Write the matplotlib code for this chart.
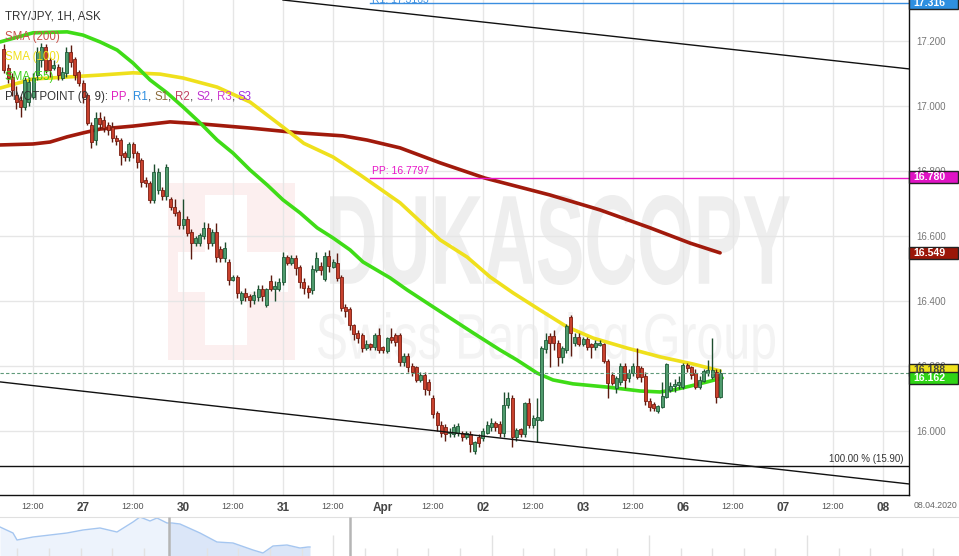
import numpy as np
import matplotlib
matplotlib.use("Agg")
import matplotlib.pyplot as plt
from matplotlib.patches import Rectangle, PathPatch
from matplotlib.textpath import TextPath
from matplotlib.font_manager import FontProperties
from matplotlib.transforms import Affine2D, blended_transform_factory

plt.rcParams['font.family'] = ['Liberation Sans', 'DejaVu Sans']

# ---------------- data ----------------
# hourly bars, hour offsets relative to 27 Mar 2020 00:00 (trading hours, weekend skipped)
hours = list(range(-19, 154))

opens = [
    17.175, 17.117, 17.089, 17.034, 17.018, 16.997, 17.012, 17.028, 17.095, 17.142,
    17.182, 17.142, 17.117, 17.120, 17.086, 17.102, 17.166, 17.145, 17.105, 17.071,
    17.034, 16.942, 16.895, 16.963, 16.957, 16.942, 16.935, 16.902, 16.895, 16.855,
    16.843, 16.883, 16.855, 16.834, 16.772, 16.763, 16.711, 16.742, 16.742, 16.723,
    16.714, 16.689, 16.674, 16.634, 16.652, 16.612, 16.578, 16.578, 16.600, 16.624,
    16.578, 16.612, 16.560, 16.532, 16.520, 16.465, 16.474, 16.403, 16.425, 16.415,
    16.403, 16.412, 16.437, 16.388, 16.462, 16.437, 16.437, 16.458, 16.535, 16.517,
    16.532, 16.505, 16.458, 16.440, 16.434, 16.495, 16.508, 16.468, 16.538, 16.505,
    16.517, 16.474, 16.382, 16.375, 16.326, 16.302, 16.295, 16.255, 16.268, 16.258,
    16.295, 16.258, 16.246, 16.289, 16.295, 16.295, 16.212, 16.231, 16.200, 16.197,
    16.157, 16.172, 16.151, 16.101, 16.055, 16.018, 16.012, 15.994, 15.991, 15.994,
    15.994, 15.982, 15.991, 15.939, 15.982, 15.978, 15.994, 16.012, 16.025, 16.021,
    15.994, 16.080, 16.101, 15.982, 16.006, 15.991, 16.086, 16.018, 16.034, 16.034,
    16.252, 16.292, 16.292, 16.271, 16.228, 16.249, 16.351, 16.271, 16.289, 16.268,
    16.283, 16.268, 16.258, 16.265, 16.268, 16.215, 16.172, 16.132, 16.151, 16.200,
    16.163, 16.178, 16.200, 16.194, 16.169, 16.092, 16.083, 16.062, 16.074, 16.105,
    16.126, 16.138, 16.142, 16.136, 16.203, 16.197, 16.178, 16.136, 16.154, 16.178,
    16.166, 16.182, 16.105]

closes = [
    17.111, 17.086, 17.049, 17.012, 16.997, 17.080, 17.074, 17.086, 17.166, 17.182,
    17.111, 17.111, 17.126, 17.095, 17.105, 17.166, 17.135, 17.095, 17.071, 17.028,
    16.948, 16.889, 16.963, 16.945, 16.932, 16.926, 16.902, 16.892, 16.849, 16.843,
    16.883, 16.855, 16.828, 16.766, 16.763, 16.711, 16.797, 16.797, 16.723, 16.812,
    16.689, 16.671, 16.634, 16.652, 16.609, 16.578, 16.594, 16.603, 16.624, 16.578,
    16.612, 16.535, 16.532, 16.563, 16.465, 16.474, 16.425, 16.425, 16.412, 16.403,
    16.418, 16.437, 16.415, 16.437, 16.437, 16.446, 16.458, 16.535, 16.517, 16.532,
    16.502, 16.458, 16.440, 16.428, 16.498, 16.532, 16.495, 16.538, 16.508, 16.520,
    16.471, 16.378, 16.369, 16.326, 16.298, 16.286, 16.255, 16.268, 16.258, 16.295,
    16.249, 16.249, 16.286, 16.280, 16.274, 16.212, 16.231, 16.197, 16.182, 16.157,
    16.172, 16.129, 16.126, 16.052, 16.018, 15.994, 15.991, 15.994, 16.012, 16.015,
    15.982, 15.994, 15.960, 15.966, 15.963, 16.000, 16.018, 16.025, 16.012, 15.994,
    16.080, 16.101, 15.982, 16.003, 15.991, 16.086, 16.018, 16.040, 16.043, 16.255,
    16.280, 16.271, 16.271, 16.228, 16.255, 16.323, 16.302, 16.289, 16.268, 16.283,
    16.258, 16.258, 16.271, 16.271, 16.215, 16.148, 16.148, 16.163, 16.200, 16.157,
    16.178, 16.200, 16.166, 16.166, 16.092, 16.074, 16.071, 16.077, 16.108, 16.206,
    16.138, 16.145, 16.151, 16.203, 16.194, 16.172, 16.136, 16.157, 16.185, 16.188,
    16.188, 16.105, 16.178]

highs = [
    17.190, 17.130, 17.100, 17.060, 17.030, 17.090, 17.090, 17.100, 17.180, 17.194,
    17.190, 17.150, 17.140, 17.130, 17.120, 17.180, 17.188, 17.150, 17.110, 17.080,
    17.040, 16.950, 16.980, 16.980, 16.970, 16.950, 16.950, 16.910, 16.900, 16.860,
    16.890, 16.890, 16.860, 16.840, 16.780, 16.770, 16.820, 16.810, 16.750, 16.820,
    16.720, 16.714, 16.680, 16.714, 16.660, 16.620, 16.600, 16.610, 16.643, 16.640,
    16.620, 16.640, 16.570, 16.580, 16.530, 16.480, 16.480, 16.430, 16.440, 16.420,
    16.430, 16.450, 16.450, 16.440, 16.480, 16.460, 16.470, 16.550, 16.540, 16.540,
    16.540, 16.510, 16.470, 16.450, 16.510, 16.550, 16.520, 16.550, 16.557, 16.530,
    16.548, 16.480, 16.390, 16.380, 16.330, 16.310, 16.300, 16.280, 16.270, 16.300,
    16.317, 16.260, 16.290, 16.317, 16.300, 16.300, 16.240, 16.240, 16.210, 16.200,
    16.180, 16.180, 16.160, 16.110, 16.060, 16.030, 16.020, 16.010, 16.020, 16.025,
    16.000, 16.000, 16.000, 15.970, 15.990, 16.010, 16.030, 16.040, 16.030, 16.030,
    16.120, 16.120, 16.110, 16.010, 16.010, 16.090, 16.100, 16.050, 16.101, 16.260,
    16.300, 16.300, 16.310, 16.280, 16.260, 16.330, 16.357, 16.300, 16.300, 16.290,
    16.290, 16.270, 16.280, 16.280, 16.270, 16.220, 16.180, 16.170, 16.210, 16.210,
    16.190, 16.210, 16.255, 16.200, 16.180, 16.100, 16.090, 16.080, 16.151, 16.210,
    16.150, 16.160, 16.170, 16.210, 16.210, 16.200, 16.190, 16.170, 16.190, 16.218,
    16.286, 16.190, 16.190]

lows = [
    17.100, 17.070, 17.030, 16.990, 16.966, 16.988, 17.000, 17.020, 17.080, 17.120,
    17.100, 17.090, 17.110, 17.080, 17.080, 17.090, 17.120, 17.080, 17.060, 17.010,
    16.940, 16.870, 16.880, 16.930, 16.920, 16.910, 16.890, 16.880, 16.818, 16.830,
    16.830, 16.840, 16.810, 16.750, 16.750, 16.700, 16.700, 16.730, 16.710, 16.710,
    16.680, 16.660, 16.620, 16.620, 16.600, 16.530, 16.570, 16.570, 16.590, 16.560,
    16.570, 16.520, 16.520, 16.520, 16.450, 16.460, 16.410, 16.390, 16.400, 16.380,
    16.390, 16.400, 16.400, 16.380, 16.430, 16.400, 16.430, 16.450, 16.510, 16.510,
    16.480, 16.440, 16.420, 16.410, 16.420, 16.490, 16.480, 16.460, 16.490, 16.500,
    16.460, 16.370, 16.350, 16.310, 16.280, 16.270, 16.243, 16.250, 16.250, 16.250,
    16.240, 16.240, 16.240, 16.270, 16.260, 16.200, 16.200, 16.180, 16.170, 16.150,
    16.150, 16.110, 16.110, 16.040, 16.000, 15.980, 15.970, 15.980, 15.980, 15.985,
    15.970, 15.975, 15.935, 15.930, 15.950, 15.970, 15.990, 16.000, 16.000, 15.980,
    15.980, 16.070, 15.951, 15.970, 15.980, 15.980, 16.010, 16.010, 15.966, 16.030,
    16.240, 16.197, 16.250, 16.200, 16.210, 16.240, 16.230, 16.260, 16.260, 16.260,
    16.250, 16.225, 16.250, 16.260, 16.210, 16.102, 16.140, 16.117, 16.140, 16.132,
    16.150, 16.170, 16.160, 16.150, 16.080, 16.060, 16.060, 16.055, 16.070, 16.100,
    16.120, 16.120, 16.130, 16.130, 16.180, 16.160, 16.130, 16.130, 16.150, 16.170,
    16.160, 16.086, 16.100]

# moving averages
sma55_h = [-19.9, -12, -3.8, 0, 4.1, 8.2, 12, 16.1, 20.2, 24, 28.1, 32.2, 36, 40.1, 44.2,
           48, 52.1, 56.2, 60, 64.1, 67.2, 73.7, 77.8, 84, 88.8, 93.6, 100.1, 104.2, 109,
           112.8, 117.6, 125.8, 133.7, 138.5, 141.6, 145.7, 149.8, 153.4]
sma55_v = [17.197, 17.225, 17.228, 17.218, 17.197, 17.172, 17.132, 17.080, 17.040, 16.997,
           16.948, 16.895, 16.855, 16.803, 16.757, 16.711, 16.671, 16.625, 16.594, 16.557,
           16.520, 16.471, 16.434, 16.382, 16.342, 16.302, 16.249, 16.218, 16.178, 16.157,
           16.145, 16.135, 16.123, 16.120, 16.126, 16.138, 16.151, 16.163]

sma100_h = [-19.9, -12, -3.8, 4.1, 12, 18.5, 24, 32.2, 40.1, 48, 53, 60, 66.5, 76.1, 85.7,
            92.2, 97.7, 103.2, 109.7, 116.2, 122.4, 130.6, 138.5, 146.4, 152.9]
sma100_v = [17.055, 17.083, 17.089, 17.095, 17.102, 17.098, 17.086, 17.058, 17.012, 16.935,
            16.885, 16.843, 16.788, 16.702, 16.588, 16.535, 16.474, 16.425, 16.372, 16.320,
            16.286, 16.255, 16.228, 16.206, 16.185]

sma200_h = [-19.9, -12, -7.9, -3.8, 0, 4.1, 12, 20.9, 28.1, 40.1, 52.1, 62.4, 68.2, 76.1,
            85.7, 96.5, 112.1, 124.1, 136.1, 145.7, 152.9]
sma200_v = [16.880, 16.883, 16.889, 16.905, 16.917, 16.929, 16.938, 16.951, 16.945, 16.932,
            16.917, 16.908, 16.895, 16.871, 16.825, 16.778, 16.726, 16.680, 16.625, 16.578,
            16.548]

pivot_start_h = 69
pp_value = 16.7797
r1_value = 17.3163
fib_level = 15.893
upper_line_h = [48.0, 198.24]
upper_line_v = [17.326, 17.114]
lower_line_h = [-19.92, 198.24]
lower_line_v = [16.151, 15.837]
last_price = 16.178

ytick_vals = [16.0, 16.2, 16.4, 16.6, 16.8, 17.0, 17.2]
xtick_hours = list(range(-12, 193, 12))
xtick_labels = ["12:00", "27", "12:00", "30", "12:00", "31", "12:00", "Apr", "12:00",
                "02", "12:00", "03", "12:00", "06", "12:00", "07", "12:00", "08"]

# navigator (overview strip) line
nav_x = [0, 13, 17, 33, 50, 67, 83, 100, 117, 133, 140, 150, 157, 167, 169,
         172, 180, 200, 217, 233, 253, 263, 273, 287, 300, 308, 310]
nav_y = [29, 23, 16, 19, 21, 23, 26, 28, 24, 34, 39, 35, 38, 33, 33,
         33, 32, 23, 14, 13, 6, 3, 10, 11, 8, 9, 9]
nav_split = 169
nav_handles = [169, 350]
nav_minor = [17, 49, 81, 112, 144, 207, 238, 270, 302, 365, 397, 428, 460, 523, 554,
             586, 617, 681, 712, 744, 775, 839, 870, 902, 933]
nav_major = [333, 492, 649, 807]

assert len(hours) == len(opens) == len(closes) == len(highs) == len(lows)

# ---------------- figure ----------------
W, H = 959, 556
fig = plt.figure(figsize=(W / 100, H / 100), dpi=100)
fig.patch.set_facecolor('white')
ax = fig.add_axes([0, 61 / H, 909 / W, 495 / H])
ax.set_xlim(-19.92, 198.24)
ax.set_ylim(15.803, 17.326)
ax.set_facecolor('white')

for s in ['left', 'top']:
    ax.spines[s].set_visible(False)
for s in ['right', 'bottom']:
    ax.spines[s].set_color('#111111')
    ax.spines[s].set_linewidth(1.0)
    ax.spines[s].set_zorder(12)

ax.set_axisbelow(True)
ax.grid(True, color='#e6e6e6', lw=1.0)
ax.yaxis.tick_right()
ax.set_yticks(ytick_vals)
ax.set_yticklabels([f"{v:.3f}" for v in ytick_vals])
ax.tick_params(axis='y', length=0, pad=5, labelsize=7, labelcolor='#777777')
ax.set_xticks(xtick_hours)
ax.set_xticklabels(xtick_labels)
ax.tick_params(axis='x', length=0, pad=5, labelsize=6.5, labelcolor='#555555')
for lab in ax.get_xticklabels():
    if lab.get_text() != "12:00":
        lab.set_fontsize(8.5)
        lab.set_fontweight('bold')
        lab.set_color('#444444')

# ---- watermark ----
wm_ax = fig.add_axes([0, 0, 1, 1], zorder=-1)
wm_ax.set_xlim(0, W)
wm_ax.set_ylim(H, 0)
wm_ax.axis('off')
wm_ax.add_patch(Rectangle((168, 183), 127, 177, fc='#fcefef', ec='none'))
wm_ax.add_patch(Rectangle((205, 195), 42, 150, fc='white', ec='none'))
wm_ax.add_patch(Rectangle((178, 252), 110, 40, fc='white', ec='none'))
ax.patch.set_alpha(0)

tp_d = TextPath((0, 0), "DUKASCOPY", size=100, prop=FontProperties(family='Liberation Sans', weight='bold'))
bb = tp_d.get_extents()
wm_ax.add_patch(PathPatch(tp_d, transform=Affine2D().translate(-bb.x0, -bb.y0)
                          .scale(460 / bb.width, -90 / bb.height).translate(330, 285) + wm_ax.transData,
                          fc='#eeeeee', ec='none'))
tp_s = TextPath((0, 0), "Swiss Banking Group", size=100, prop=FontProperties(family='Liberation Sans'))
bb = tp_s.get_extents()
wm_ax.add_patch(PathPatch(tp_s, transform=Affine2D().translate(-bb.x0, -bb.y0)
                          .scale(457 / bb.width, -60 / bb.height).translate(318, 372) + wm_ax.transData,
                          fc='#f3f3f3', ec='none'))

# ---- lines ----
ax.plot(upper_line_h, upper_line_v, color='#111111', lw=1.0, zorder=6)
ax.plot(lower_line_h, lower_line_v, color='#111111', lw=1.0, zorder=6)
ax.axhline(fib_level, color='#111111', lw=1.0, zorder=6)
ax.text(197, fib_level + 0.004, "100.00 % (15.90)", ha='right', va='bottom', fontsize=7,
        color='#333333', zorder=7)

ax.plot([pivot_start_h, 198.24], [pp_value, pp_value], color='#e815c8', lw=1.0, zorder=6)
ax.plot([pivot_start_h, 198.24], [r1_value, r1_value], color='#3a8ee0', lw=1.0, zorder=6)
ax.text(pivot_start_h + 0.3, pp_value + 0.004, f"PP: {pp_value}", color='#e815c8', fontsize=7.5,
        ha='left', va='bottom', zorder=7)
ax.text(pivot_start_h + 0.3, 17.3262, f"R1: {r1_value}", color='#3a8ee0', fontsize=7.5,
        ha='left', va='center', zorder=7, clip_on=False)

ax.axhline(last_price, color='#5f9a7a', lw=0.8, ls=(0, (3, 2)), zorder=6)

ax.plot(sma200_h, sma200_v, color='#a11a0c', lw=2.6, zorder=3, solid_capstyle='round')
ax.plot(sma100_h, sma100_v, color='#efe01c', lw=2.6, zorder=3, solid_capstyle='round')
ax.plot(sma55_h, sma55_v, color='#3fdc17', lw=2.6, zorder=3, solid_capstyle='round')

# ---- candles ----
x = np.array(hours, dtype=float)
o = np.array(opens); c = np.array(closes)
hi = np.maximum(np.array(highs), np.maximum(o, c))
lo = np.minimum(np.array(lows), np.minimum(o, c))
up = c >= o
for mask, body, edge, wick in [(up, '#4f9b6d', '#1e5a37', '#1d4c2d'),
                               (~up, '#c8412d', '#7a1d11', '#5c1a0f')]:
    ax.vlines(x[mask], lo[mask], hi[mask], color=wick, lw=1.0, zorder=4)
    ax.bar(x[mask], np.maximum(np.abs(c - o)[mask], 0.002), bottom=np.minimum(o, c)[mask],
           width=0.72, color=body, edgecolor=edge, lw=0.6, zorder=5)

# ---- value boxes on the right axis ----
ytrans = blended_transform_factory(ax.transAxes, ax.transData)
hh = 6 / 325.0
bw = 49 / 909.0
def value_box(v, fc, tc):
    ax.add_patch(Rectangle((1.0, v - hh), bw, 2 * hh, transform=ytrans, fc=fc, ec='#222222',
                           lw=1.0, clip_on=False, zorder=20))
    ax.text(1.0 + 4 / 909, v, f"{v:.3f}", transform=ytrans, ha='left', va='center',
            fontsize=7.6, fontweight='bold', color=tc, clip_on=False, zorder=21)

value_box(17.316, '#2e8fe0', 'white')
value_box(16.780, '#e013c4', 'white')
value_box(16.549, '#9b1608', 'white')
value_box(16.188, '#f0e21c', '#444444')
value_box(16.162, '#2fd416', 'white')

# ---- top-left legend ----
fig.text(5 / W, 1 - 19.5 / H, "TRY/JPY, 1H, ASK", fontsize=8.3, color='#333333', va='baseline')
fig.text(5 / W, 1 - 40 / H, "SMA (200)", fontsize=8.3, color='#c8524a', va='baseline')
fig.text(5 / W, 1 - 60 / H, "SMA (100)", fontsize=8.3, color='#f0e01a', va='baseline')
fig.text(5 / W, 1 - 80 / H, "SMA (55)", fontsize=8.3, color='#3ed016', va='baseline')

parts = [("PIVOTPOINT (0, 9): ", '#333333'), ("PP", '#e020c0'), (", ", '#333333'),
         ("R1", '#2e8ee0'), (", ", '#333333'), ("S1", '#8b6b3b'), (", ", '#333333'),
         ("R2", '#c04060'), (", ", '#333333'), ("S2", '#c030d0'), (", ", '#333333'),
         ("R3", '#d040d0'), (", ", '#333333'), ("S3", '#a030e0')]
renderer = fig.canvas.get_renderer()
xcur = 5.0
for s, col in parts:
    t = fig.text(xcur / W, 1 - 100 / H, s.replace(" ", "\u00a0"), fontsize=8.3, color=col,
                 va='baseline', ha='left')
    bbx = t.get_window_extent(renderer)
    xcur = bbx.x1

# date at the bottom right
fig.text(935 / W, 1 - 506 / H, "08.04.2020", fontsize=6.3, color='#666666', ha='center', va='center')

# ---- navigator ----
nav = fig.add_axes([0, 0, 1, 39 / H])
nav.set_xlim(0, W)
nav.set_ylim(0, 39)
for s in ['left', 'right', 'bottom']:
    nav.spines[s].set_visible(False)
nav.spines['top'].set_color('#e0e0e0')
nx = np.array(nav_x, dtype=float); ny = np.array(nav_y, dtype=float)
m1 = nx <= nav_split
m2 = nx >= nav_split
nav.fill_between(nx[m1], 0, ny[m1], color='#edf3fc', lw=0, zorder=1)
nav.fill_between(nx[m2], 0, ny[m2], color='#dbe6f8', lw=0, zorder=1)
nav.plot(nx, ny, color='#a5c6f0', lw=1.0, zorder=2)
nav.vlines(nav_handles, 0, 39, color='#b5b5b5', lw=1.8, zorder=3)
nav.set_xticks(nav_major)
nav.set_xticks(nav_minor, minor=True)
nav.set_yticks([])
nav.tick_params(axis='x', which='major', direction='in', length=15, color='#e2e2e2',
                labelbottom=False, width=1)
nav.tick_params(axis='x', which='minor', direction='in', length=6, color='#e2e2e2', width=1)

fig.savefig("out.png", dpi=100, facecolor='white')
